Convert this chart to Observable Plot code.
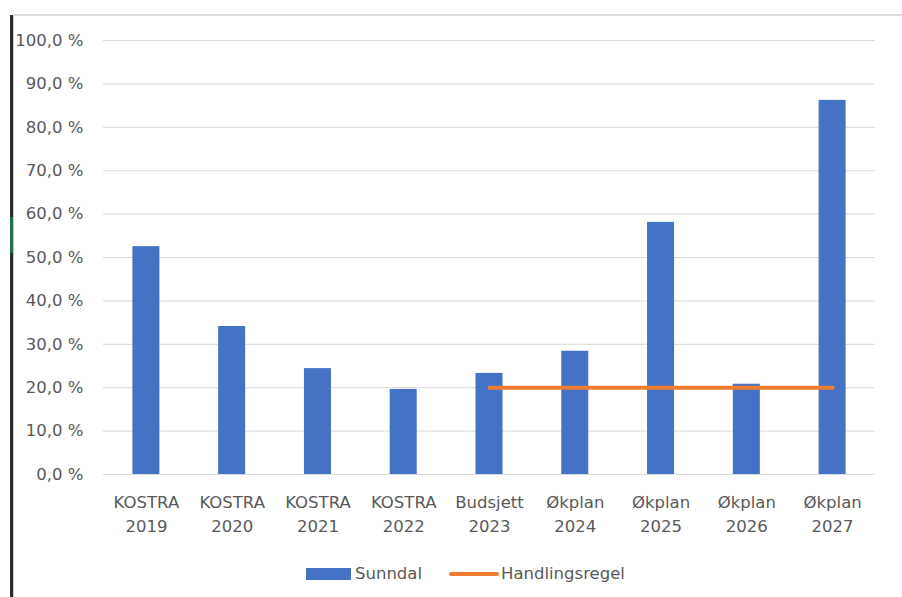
<!DOCTYPE html>
<html>
<head>
<meta charset="utf-8">
<script src="https://cdn.jsdelivr.net/npm/d3@7"></script>
<script src="https://cdn.jsdelivr.net/npm/@observablehq/plot@0.6"></script>
<style>
  html, body { margin: 0; padding: 0; background: #fff; }
  #wrap { position: relative; width: 902px; height: 597px; overflow: hidden; font-family: "DejaVu Sans", sans-serif; }
  #chart { position: absolute; left: 0; top: 0; }
  .topline { position: absolute; left: 13px; top: 14px; width: 889px; height: 2px; background: #dcdcdc; }
  .leftbar { position: absolute; left: 10px; top: 15px; width: 3px; height: 582px; background: #2b2b2b; }
  .leftbar2 { position: absolute; left: 13px; top: 15px; width: 1px; height: 582px; background: #c8c8c8; }
  .green { position: absolute; left: 10px; top: 217px; width: 3px; height: 36px; background: #217346; }
  #legend { position: absolute; top: 564px; left: 0; width: 902px; height: 20px; font-size: 16.5px; color: #595959; }
  .sw { position: absolute; }
  .lt { position: absolute; top: 0; line-height: 20px; }
</style>
</head>
<body>
<div id="wrap">
  <div id="chart"></div>
  <div class="topline"></div>
  <div class="leftbar"></div>
  <div class="leftbar2"></div>
  <div class="green"></div>
  <div id="legend"></div>
</div>
<script>
const categories = ["KOSTRA\n2019", "KOSTRA\n2020", "KOSTRA\n2021", "KOSTRA\n2022", "Budsjett\n2023", "Økplan\n2024", "Økplan\n2025", "Økplan\n2026", "Økplan\n2027"];
const sunndal = [52.5, 34.1, 24.4, 19.6, 23.3, 28.4, 58.1, 20.8, 86.2];
const handlingsregel = [null, null, null, null, 20, 20, 20, 20, 20];
const yTicks = [0, 10, 20, 30, 40, 50, 60, 70, 80, 90, 100];
const seriesNames = ["Sunndal", "Handlingsregel"];
const colors = ["#4472C4", "#ED7D31"];

const barData = categories.map((c, i) => ({cat: c, v: sunndal[i]}));
const lineData = categories.map((c, i) => ({cat: c, v: handlingsregel[i]})).filter(d => d.v != null);

const fmt = d => d.toFixed(1).replace(".", ",") + " %";

const chart = Plot.plot({
  width: 902,
  height: 545,
  marginTop: 40,
  marginBottom: 71,
  marginLeft: 103,
  marginRight: 27,
  style: {fontFamily: "'DejaVu Sans', sans-serif", fontSize: "16.5px", color: "#595959", background: "transparent"},
  x: {domain: categories, paddingInner: 0.685, paddingOuter: 0.3425, round: false, label: null},
  y: {domain: [0, 100], label: null},
  marks: [
    Plot.ruleY(yTicks, {stroke: "#d9d9d9", strokeWidth: 1}),
    Plot.barY(barData, {x: "cat", y: "v", fill: colors[0]}),
    Plot.line(lineData, {x: "cat", y: "v", stroke: colors[1], strokeWidth: 4, strokeLinecap: "round"}),
    Plot.axisY(yTicks, {tickSize: 0, tickPadding: 20, tickFormat: fmt, fontSize: 16.5, fill: "#595959", label: null}),
    Plot.axisX({tickSize: 0, tickPadding: 17, fontSize: 16.5, fill: "#595959", lineHeight: 1.45, label: null})
  ]
});
document.getElementById("chart").appendChild(chart);

const legend = document.getElementById("legend");
legend.innerHTML = `
  <div class="sw" style="left:306px; top:4px; width:45px; height:12px; background:${colors[0]}"></div>
  <div class="lt" style="left:355px">${seriesNames[0]}</div>
  <div class="sw" style="left:449px; top:8px; width:50px; height:4px; border-radius:2px; background:${colors[1]}"></div>
  <div class="lt" style="left:501px">${seriesNames[1]}</div>
`;
</script>
</body>
</html>
